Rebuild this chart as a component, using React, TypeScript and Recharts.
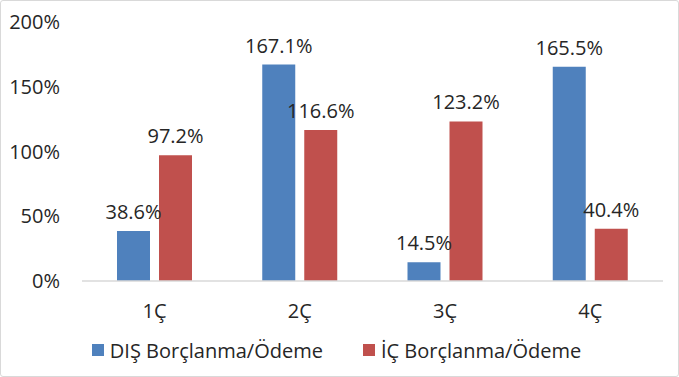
import React from "react";
import { BarChart, Bar, XAxis, YAxis, Legend, LabelList } from "recharts";

const quarters = ["1Ç", "2Ç", "3Ç", "4Ç"];
const disValues = [38.6, 167.1, 14.5, 165.5];
const icValues = [97.2, 116.6, 123.2, 40.4];
const yTicks = [0, 50, 100, 150, 200];

const seriesNames = { dis: "DIŞ Borçlanma/Ödeme", ic: "İÇ Borçlanma/Ödeme" };
const colors = { dis: "#4F81BD", ic: "#C0504D" };

const data = quarters.map((q, i) => ({ name: q, dis: disValues[i], ic: icValues[i] }));

const FONT = "'Open Sans', sans-serif";
const TEXT = "#262626";
const SIZE = 20;

const fmt = (v: number) => `${v}%`;
const fmtLabel = (v: any) => `${Number(v).toFixed(1)}%`;

function LegendContent() {
  const items = [
    { key: "dis", name: seriesNames.dis, color: colors.dis },
    { key: "ic", name: seriesNames.ic, color: colors.ic },
  ];
  return (
    <div
      style={{
        display: "flex",
        justifyContent: "center",
        alignItems: "center",
        height: 38,
        paddingLeft: 8,
        fontFamily: FONT,
        fontSize: SIZE,
        color: TEXT,
      }}
    >
      {items.map((it, i) => (
        <div
          key={it.key}
          style={{ display: "flex", alignItems: "center", marginRight: i === 0 ? 40 : 0 }}
        >
          <span style={{ width: 12, height: 12, background: it.color, marginRight: 6, display: "inline-block" }} />
          <span>{it.name}</span>
        </div>
      ))}
    </div>
  );
}

export default function App() {
  return (
    <div style={{ position: "absolute", left: 0, top: 0, width: 679, height: 377, background: "#fff" }}>
      <BarChart
        width={679}
        height={377}
        data={data}
        margin={{ top: 22, right: 16, left: 2, bottom: 8 }}
        barGap={9}
        barSize={33}
      >
        <XAxis
          dataKey="name"
          height={50}
          tickLine={false}
          tickSize={0}
          tickMargin={23}
          axisLine={{ stroke: "#d9d9d9", strokeWidth: 1.5 }}
          tick={{ fill: TEXT, fontSize: SIZE, fontFamily: FONT }}
        />
        <YAxis
          width={80}
          domain={[0, 200]}
          ticks={yTicks}
          tickFormatter={fmt}
          axisLine={false}
          tickLine={false}
          tickSize={0}
          tickMargin={22}
          tick={{ fill: TEXT, fontSize: SIZE, fontFamily: FONT }}
        />
        <Legend verticalAlign="bottom" content={<LegendContent />} />
        <Bar dataKey="dis" name={seriesNames.dis} fill={colors.dis} isAnimationActive={false}>
          <LabelList
            dataKey="dis"
            position="top"
            offset={12}
            formatter={fmtLabel}
            style={{ fill: TEXT, fontSize: SIZE, fontFamily: FONT }}
          />
        </Bar>
        <Bar dataKey="ic" name={seriesNames.ic} fill={colors.ic} isAnimationActive={false}>
          <LabelList
            dataKey="ic"
            position="top"
            offset={12}
            formatter={fmtLabel}
            style={{ fill: TEXT, fontSize: SIZE, fontFamily: FONT }}
          />
        </Bar>
      </BarChart>
      <div
        style={{
          position: "absolute",
          inset: 0,
          border: "1px solid #d9d9d9",
          borderRadius: 3,
          pointerEvents: "none",
        }}
      />
    </div>
  );
}
